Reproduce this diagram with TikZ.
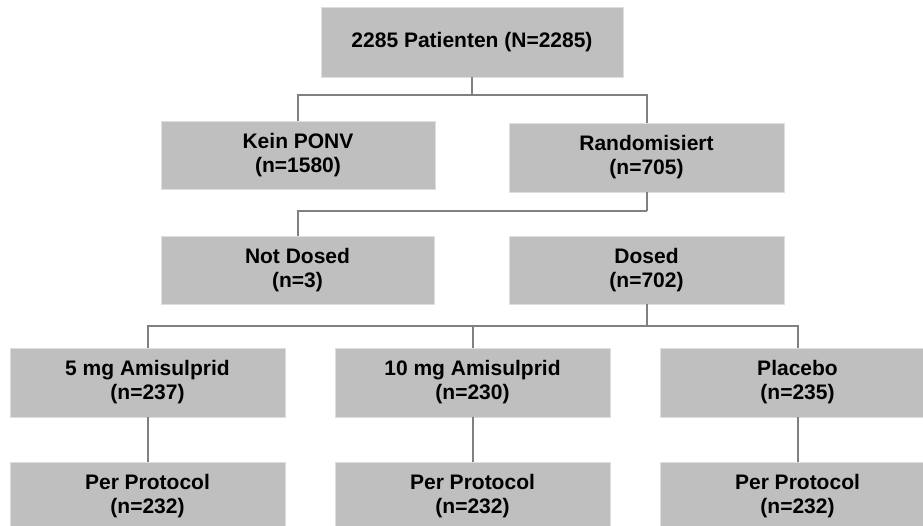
\documentclass[tikz,border=0pt]{standalone}
\usepackage{fontspec}
\setmainfont{Liberation Sans}
\definecolor{boxfill}{RGB}{191,191,191}
\definecolor{boxedge}{RGB}{222,222,222}
\definecolor{linegray}{RGB}{128,128,128}
\tikzset{
  box/.style={fill=boxfill, draw=boxedge, line width=0.8pt, inner sep=0pt,
    minimum width=275pt, minimum height=68pt, align=center,
    font=\bfseries\fontsize{21}{24}\selectfont},
  conn/.style={draw=linegray, line width=2pt}
}
\begin{document}
\begin{tikzpicture}[x=1pt,y=1pt]
\useasboundingbox (0,0) rectangle (923,-526);
\clip (0,0) rectangle (923,-526);
\node[box, minimum width=302pt, minimum height=70pt] (top) at (472,-42) {2285 Patienten (N=2285)};
\node[box, minimum width=274pt] (kein) at (298,-155) {Kein PONV\\(n=1580)};
\node[box, minimum height=69pt] (rand) at (646.5,-157.5) {Randomisiert\\(n=705)};
\node[box, minimum width=273pt] (notd) at (297.5,-270) {Not Dosed\\(n=3)};
\node[box] (dosed) at (646.5,-270) {Dosed\\(n=702)};
\node[box, minimum height=69pt] (a5) at (147.5,-382.5) {5 mg Amisulprid\\(n=237)};
\node[box, minimum height=69pt] (a10) at (472.5,-382.5) {10 mg Amisulprid\\(n=230)};
\node[box, minimum height=69pt] (plac) at (797.5,-382.5) {Placebo\\(n=235)};
\node[box, minimum height=69pt] (pp1) at (147.5,-496.5) {Per Protocol\\(n=232)};
\node[box, minimum height=69pt] (pp2) at (472.5,-496.5) {Per Protocol\\(n=232)};
\node[box, minimum height=69pt] (pp3) at (797.5,-496.5) {Per Protocol\\(n=232)};
\coordinate (b1) at (472,-95);
\coordinate (b2) at (646.5,-211);
\coordinate (b3) at (646.5,-326);
\draw[conn] (top.south) -- (b1);
\draw[conn] (kein.north) |- (b1) -| (rand.north);
\draw[conn] (rand.south) -- (b2);
\draw[conn] (notd.north) |- (b2);
\draw[conn] (dosed.south) -- (b3);
\draw[conn] (a5.north) |- (b3) -| (plac.north);
\draw[conn] (a10.north) -- (a10.north |- b3);
\draw[conn] (a5.south) -- (pp1.north);
\draw[conn] (a10.south) -- (pp2.north);
\draw[conn] (plac.south) -- (pp3.north);
\end{tikzpicture}
\end{document}
